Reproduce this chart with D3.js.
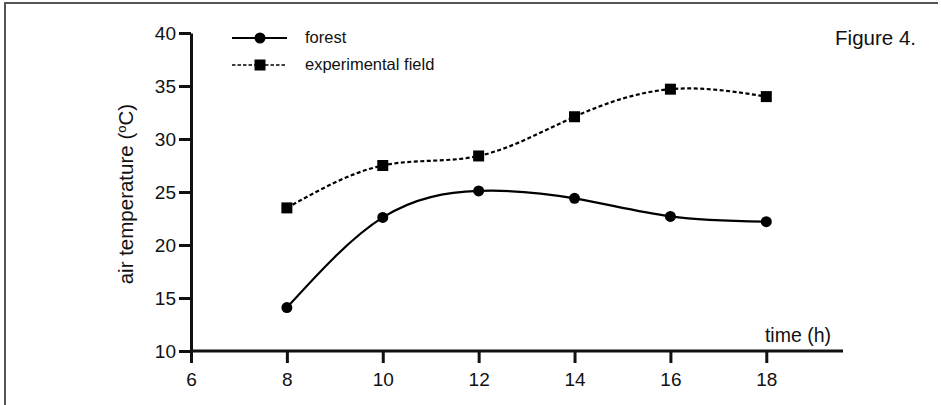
<!DOCTYPE html>
<meta charset="utf-8">
<style>
body { margin: 0; background: #fff; }
text { font-family: 'Liberation Sans', Arial, sans-serif; fill: #111; }
.tick text { font-size: 19px; }
.axisLabel { font-size: 19.5px; }
.legendLabel { font-size: 16.5px; }
</style>
<body>
<script src="https://d3js.org/d3.v7.min.js"></script>
<script>

const hours = [8, 10, 12, 14, 16, 18];
const forest = [14.1, 22.6, 25.1, 24.4, 22.7, 22.2];
const field = [23.5, 27.5, 28.4, 32.1, 34.7, 34.0];
const xTicks = [6, 8, 10, 12, 14, 16, 18];
const yTicks = [10, 15, 20, 25, 30, 35, 40];

const width = 941,
      height = 405;

let svg = d3.select("body").append("svg")
            .attr("width", width)
            .attr("height", height);

// frame (only top + left edges show in the scan)
svg.append("path")
    .attr("d", "M5,405V3H938")
    .attr("fill", "none")
    .attr("stroke", "#555")
    .attr("stroke-width", 2);

let x = d3.scaleLinear().domain([6, 19.6]).range([191, 843]),
    y = d3.scaleLinear().domain([10, 40]).range([351, 33]);

let xAxis = svg.append("g")
    .attr("transform", `translate(0,${y(10)})`)
    .call(d3.axisBottom(x).tickValues(xTicks).tickSize(12).tickPadding(10).tickSizeOuter(0));

let yAxis = svg.append("g")
    .attr("transform", `translate(${x(6)},0)`)
    .call(d3.axisLeft(y).tickValues(yTicks).tickSize(12).tickPadding(3).tickSizeOuter(0));

[xAxis, yAxis].forEach(a => {
    a.select(".domain").attr("stroke", "#111").attr("stroke-width", 3);
    a.selectAll(".tick line").attr("stroke", "#111").attr("stroke-width", 3);
    a.selectAll(".tick text").attr("fill", "#111");
});
// x axis stops at the y axis (no overhang to the left)
xAxis.select(".domain").attr("d", `M${x(6)},0H${x(19.6)}`);

svg.append("text")
    .attr("class", "axisLabel")
    .attr("x", 831)
    .attr("y", 342)
    .attr("text-anchor", "end")
    .text("time (h)");

let yl = svg.append("text")
    .attr("class", "axisLabel")
    .attr("font-size", 20.5)
    .style("font-size", "20.5px")
    .attr("transform", `translate(133,${y(24.8)}) rotate(-90)`)
    .attr("text-anchor", "middle");
yl.append("tspan").text("air temperature (");
yl.append("tspan").attr("dy", -7).style("font-size", "13px").text("o");
yl.append("tspan").attr("dy", 7).text("C)");

svg.append("text")
    .attr("class", "axisLabel")
    .style("font-size", "20.5px")
    .attr("x", 916)
    .attr("y", 45)
    .attr("text-anchor", "end")
    .text("Figure 4.");

const line = d3.line()
    .x((d, i) => x(hours[i]))
    .y(d => y(d))
    .curve(d3.curveNatural);

svg.append("path")
    .attr("d", line(forest))
    .attr("fill", "none")
    .attr("stroke", "#000")
    .attr("stroke-width", 2.2);

svg.append("path")
    .attr("d", line(field))
    .attr("fill", "none")
    .attr("stroke", "#000")
    .attr("stroke-width", 2.2)
    .attr("stroke-dasharray", "4,2.5");

svg.append("g")
    .selectAll("circle")
    .data(forest)
    .join("circle")
        .attr("cx", (d, i) => x(hours[i]))
        .attr("cy", d => y(d))
        .attr("r", 5.5)
        .attr("fill", "#000");

svg.append("g")
    .selectAll("rect")
    .data(field)
    .join("rect")
        .attr("x", (d, i) => x(hours[i]) - 5.5)
        .attr("y", d => y(d) - 5.5)
        .attr("width", 11)
        .attr("height", 11)
        .attr("fill", "#000");

// legend
const legend = svg.append("g");
legend.append("line")
    .attr("x1", 232).attr("x2", 287).attr("y1", 38).attr("y2", 38)
    .attr("stroke", "#000").attr("stroke-width", 2.2);
legend.append("circle")
    .attr("cx", 260).attr("cy", 38).attr("r", 5.5).attr("fill", "#000");
legend.append("text")
    .attr("class", "legendLabel")
    .attr("x", 305).attr("y", 43)
    .text("forest");

legend.append("line")
    .attr("x1", 232).attr("x2", 287).attr("y1", 65).attr("y2", 65)
    .attr("stroke", "#000").attr("stroke-width", 1.6)
    .attr("stroke-dasharray", "3.5,2");
legend.append("rect")
    .attr("x", 254.5).attr("y", 59.5).attr("width", 11).attr("height", 11).attr("fill", "#000");
legend.append("text")
    .attr("class", "legendLabel")
    .attr("x", 305).attr("y", 70)
    .text("experimental field");

</script>
